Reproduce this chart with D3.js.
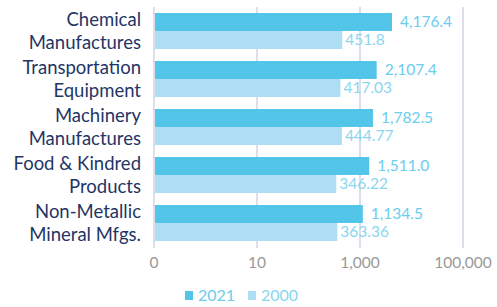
<!DOCTYPE html>
<html>
<head>
<meta charset="utf-8">
<script src="https://cdn.jsdelivr.net/npm/d3@7"></script>
<style>
  body { margin: 0; background: #fff; }
  text { font-family: Lato, "Open Sans", sans-serif; }
</style>
</head>
<body>
<div id="chart"></div>
<script>
// categories, each split on two lines
var categories = [
  ["Chemical", "Manufactures"],
  ["Transportation", "Equipment"],
  ["Machinery", "Manufactures"],
  ["Food & Kindred", "Products"],
  ["Non-Metallic", "Mineral Mfgs."]
];
var series = ["2021", "2000"];
var values2021 = [4176.4, 2107.4, 1782.5, 1511.0, 1134.5];
var values2000 = [451.8, 417.03, 444.77, 346.22, 363.36];
var labels2021 = ["4,176.4", "2,107.4", "1,782.5", "1,511.0", "1,134.5"];
var labels2000 = ["451.8", "417.03", "444.77", "346.22", "363.36"];
var tickValues = [0.1, 10, 1000, 100000];
var tickLabels = ["0", "10", "1,000", "100,000"];

var colors = { "2021": "#52c5e8", "2000": "#addef3" };
var labelColors = { "2021": "#6ccdee", "2000": "#8ad6f0" };

function chartBasics() {
  var margin = {top: 7, right: 34, bottom: 60, left: 154},
      width = 497,
      height = 307;
  return { margin: margin, width: width, height: height };
}

function drawChart() {
  var basics = chartBasics();
  var margin = basics.margin,
      width = basics.width,
      height = basics.height;

  var svg = d3.select("#chart").append("svg")
      .attr("width", width)
      .attr("height", height);

  var plot = svg.append("g")
      .attr("transform", "translate(" + margin.left + "," + margin.top + ")");

  var x = d3.scaleLog().domain([0.1, 100000]).range([0, 309]);

  var y = d3.scaleBand()
      .domain(d3.range(categories.length))
      .range([0, 240])
      .paddingInner(0.25)
      .paddingOuter(0.125);

  var ySub = d3.scaleBand().domain(series).range([0, y.bandwidth()]);

  // gridlines
  plot.selectAll(".grid")
      .data(tickValues)
      .enter().append("line")
      .attr("x1", function(d) { return x(d); })
      .attr("x2", function(d) { return x(d); })
      .attr("y1", 0)
      .attr("y2", 241)
      .attr("stroke", "#d3d3e3")
      .attr("stroke-width", 1.5);

  var rows = [
    { key: "2021", vals: values2021, labs: labels2021, off: 8 },
    { key: "2000", vals: values2000, labs: labels2000, off: 3 }
  ];

  rows.forEach(function(r) {
    plot.selectAll(".bar" + r.key)
        .data(r.vals)
        .enter().append("rect")
        .attr("x", 1)
        .attr("y", function(d, i) { return y(i) + ySub(r.key); })
        .attr("width", function(d) { return x(d) - 1; })
        .attr("height", ySub.bandwidth())
        .attr("fill", colors[r.key]);

    plot.selectAll(".lab" + r.key)
        .data(r.vals)
        .enter().append("text")
        .text(function(d, i) { return r.labs[i]; })
        .attr("x", function(d) { return x(d) + r.off; })
        .attr("y", function(d, i) { return y(i) + ySub(r.key) + ySub.bandwidth() / 2; })
        .attr("dy", "0.35em")
        .attr("font-size", 15.5)
        .attr("fill", labelColors[r.key]);
  });

  // category labels
  var cat = plot.selectAll(".cat")
      .data(categories)
      .enter().append("text")
      .attr("text-anchor", "end")
      .attr("font-size", 18.5)
      .attr("fill", "#1f3566");
  cat.each(function(lines, i) {
    var t = d3.select(this);
    var cy = y(i) + y.bandwidth() / 2;
    lines.forEach(function(line, k) {
      t.append("tspan")
          .attr("x", -13)
          .attr("y", cy + (k === 0 ? -11.5 : 11.5))
          .attr("dy", "0.35em")
          .text(line);
    });
  });

  // x tick labels
  plot.selectAll(".tick")
      .data(tickValues)
      .enter().append("text")
      .text(function(d, i) { return tickLabels[i]; })
      .attr("x", function(d) { return x(d); })
      .attr("y", 256)
      .attr("dy", "0.35em")
      .attr("text-anchor", "middle")
      .attr("font-size", 15.5)
      .attr("fill", "#999999");

  // legend
  var legend = svg.append("g").attr("transform", "translate(185,295.5)");
  var lx = [0, 63];
  series.forEach(function(s, i) {
    legend.append("rect")
        .attr("x", lx[i])
        .attr("y", -4.5)
        .attr("width", 8)
        .attr("height", 9)
        .attr("fill", colors[s]);
    legend.append("text")
        .text(s)
        .attr("x", lx[i] + 13)
        .attr("y", 0)
        .attr("dy", "0.36em")
        .attr("font-size", 16)
        .attr("fill", labelColors[s]);
  });
}
drawChart();
</script>
</body>
</html>
